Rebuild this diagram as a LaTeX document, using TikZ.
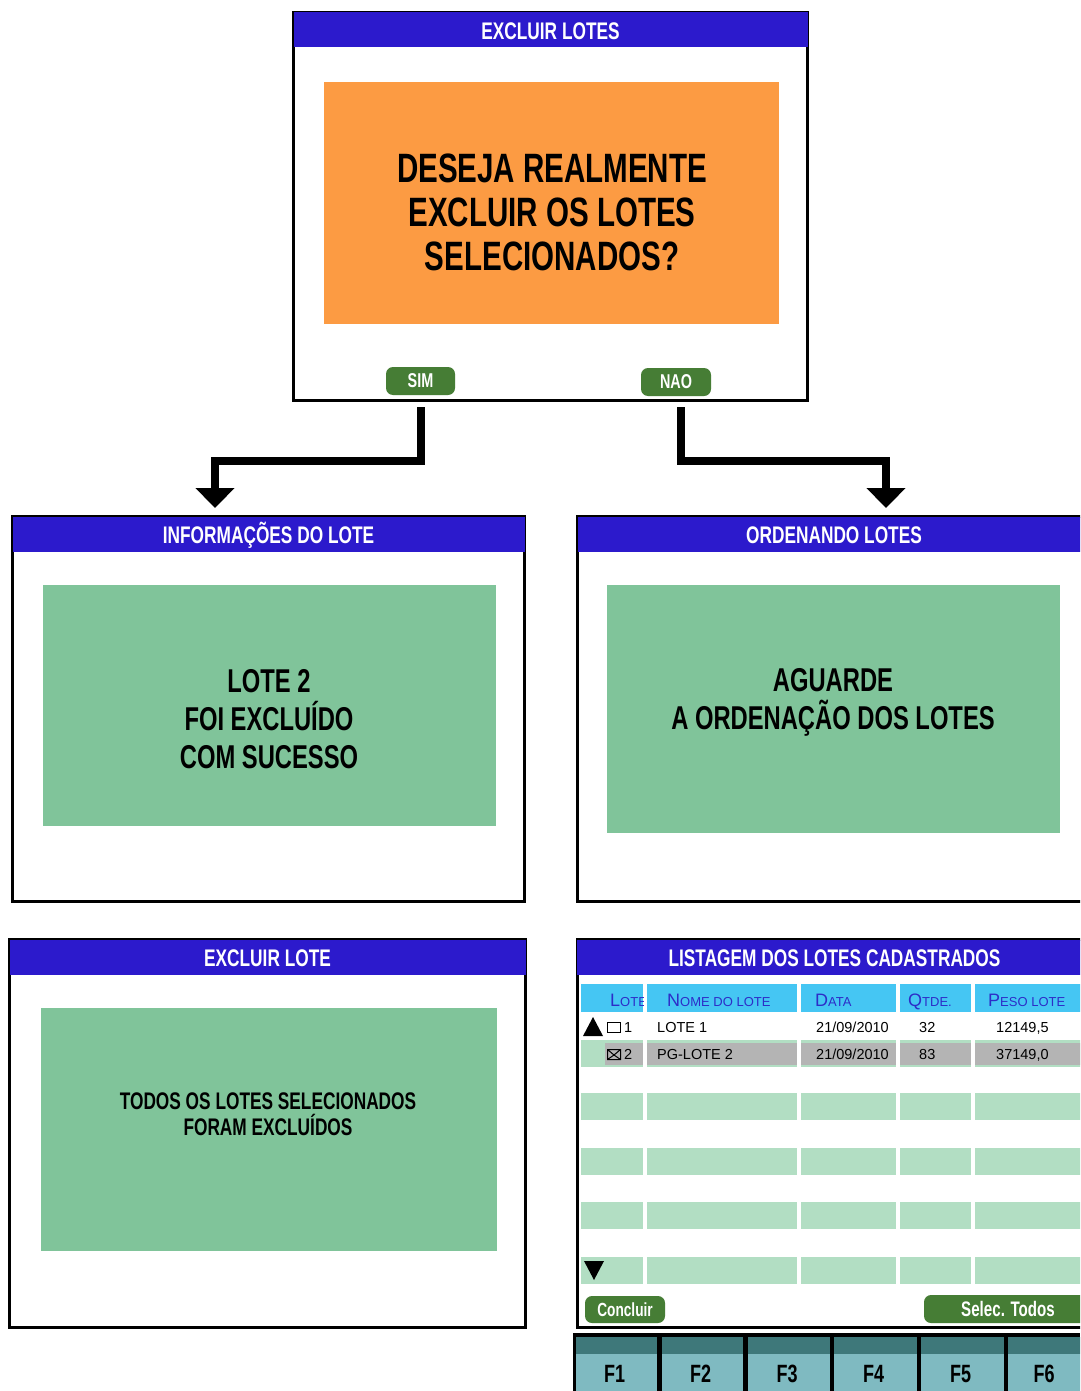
\documentclass[tikz,border=0pt]{standalone}
\usepackage{fontspec}
\setmainfont{Liberation Sans}[FakeStretch=0.72]
\newfontfamily\tablefont{Liberation Sans}
\usetikzlibrary{arrows.meta}
\definecolor{hdrblue}{HTML}{2C1ACC}
\definecolor{msgorange}{HTML}{FC9B43}
\definecolor{msggreen}{HTML}{80C49A}
\definecolor{btngreen}{HTML}{467D35}
\definecolor{colcyan}{HTML}{45C6F3}
\definecolor{colblue}{HTML}{2D2DC8}
\definecolor{rowgreen}{HTML}{B2DEC3}
\definecolor{rowgray}{HTML}{B4B4B4}
\definecolor{keydark}{HTML}{3E787A}
\definecolor{keylight}{HTML}{7FBAC1}
\newcommand{\capsmall}[2]{{\fontsize{18}{18}\selectfont #1}{\fontsize{13}{13}\selectfont #2}}

\begin{document}
\begin{tikzpicture}[x=1pt,y=-1pt,
  screen/.style={draw=black,line width=3pt,fill=white,inner sep=0pt},
  title/.style={text=white,font=\bfseries\fontsize{24}{24}\selectfont},
  msgtext/.style 2 args={align=center,font=\bfseries\fontsize{#1}{#2}\selectfont},
  btn/.style={fill=btngreen,rounded corners=7pt,text=white,inner sep=0pt,font=\bfseries\fontsize{20}{20}\selectfont},
  cell/.style={anchor=base west,inner sep=0pt,font=\tablefont\fontsize{14.5}{14.5}\selectfont},
  colhead/.style={anchor=base west,inner sep=0pt,text=colblue,font=\tablefont},
  flow/.style={line width=8pt,-{Triangle[width=38pt,length=20pt]}}]
  \path[use as bounding box,clip] (0,0) rectangle (1080,1391);

  % question screen
  \node[screen,minimum width=514,minimum height=388] (top) at (550.5,206.5) {};
  \fill[hdrblue] ([shift={(1.5pt,-1.5pt)}]top.north west) rectangle ([shift={(-1.5pt,-36.5pt)}]top.north east);
  \node[title] (toptitle) at ([yshift=-20.5pt]top.north) {EXCLUIR LOTES};
  \node[fill=msgorange,minimum width=455,minimum height=242,inner sep=0pt] (ask) at (551.5,203) {};
  \node[msgtext={41}{44}] (asktext) at (552,212) {DESEJA REALMENTE\\EXCLUIR OS LOTES\\SELECIONADOS?};
  \node[btn,minimum width=69,minimum height=28] (sim) at (420.5,381) {SIM};
  \node[btn,minimum width=70,minimum height=28] (nao) at (676,382) {NAO};

  % lot info screen
  \node[screen,minimum width=512,minimum height=385] (info) at (268.5,709) {};
  \fill[hdrblue] ([shift={(1.5pt,-1.5pt)}]info.north west) rectangle ([shift={(-1.5pt,-36.5pt)}]info.north east);
  \node[title] (infotitle) at ([yshift=-20.5pt]info.north) {INFORMAÇÕES DO LOTE};
  \node[fill=msggreen,minimum width=453,minimum height=241,inner sep=0pt] (infobox) at (269.5,705.5) {};
  \node[msgtext={33}{38}] (infotext) at (269,719) {LOTE 2\\FOI EXCLUÍDO\\COM SUCESSO};

  % sorting screen
  \node[screen,minimum width=513,minimum height=385] (order) at (834,709) {};
  \fill[hdrblue] ([shift={(1.5pt,-1.5pt)}]order.north west) rectangle ([shift={(-1.5pt,-36.5pt)}]order.north east);
  \node[title] (ordertitle) at ([yshift=-20.5pt]order.north) {ORDENANDO LOTES};
  \node[fill=msggreen,minimum width=453,minimum height=248,inner sep=0pt] (orderbox) at (833.5,709) {};
  \node[msgtext={33}{38}] (ordertext) at (833,702) {AGUARDE\\A ORDENAÇÃO DOS LOTES};

  % done screen
  \node[screen,minimum width=516,minimum height=388] (done) at (267.5,1133.5) {};
  \fill[hdrblue] ([shift={(1.5pt,-1.5pt)}]done.north west) rectangle ([shift={(-1.5pt,-36.5pt)}]done.north east);
  \node[title] (donetitle) at ([yshift=-20.5pt]done.north) {EXCLUIR LOTE};
  \node[fill=msggreen,minimum width=456,minimum height=243,inner sep=0pt] (donebox) at (269,1129.5) {};
  \node[msgtext={24}{26}] (donetext) at (268,1114) {TODOS OS LOTES SELECIONADOS\\FORAM EXCLUÍDOS};

  % list screen
  \node[screen,minimum width=515,minimum height=388] (list) at (834.5,1133.5) {};
  \fill[hdrblue] ([shift={(1.5pt,-1.5pt)}]list.north west) rectangle ([shift={(-1.5pt,-36.5pt)}]list.north east);
  \node[title] (listtitle) at ([yshift=-20.5pt]list.north) {LISTAGEM DOS LOTES CADASTRADOS};

  \foreach \xa/\xb in {581/643,647/797,801/896,900/971,975/1090} {
    \fill[colcyan] (\xa,984) rectangle (\xb,1012);
    \fill[rowgreen] (\xa,1040) rectangle (\xb,1067);
    \foreach \y in {1093,1148,1202,1257}
      \fill[rowgreen] (\xa,\y) rectangle (\xb,\y+27);
  }
  \foreach \xa/\xb in {605/643,647/797,801/896,900/971,975/1090}
    \fill[rowgray] (\xa,1043) rectangle (\xb,1065);

  \begin{scope}
    \clip (581,984) rectangle (643,1012);
    \node[colhead] (hlote) at (610,1006) {\capsmall{L}{OTE}};
  \end{scope}
  \node[colhead] (hnome) at (667,1006) {\capsmall{N}{OME DO LOTE}};
  \node[colhead] (hdata) at (815,1006) {\capsmall{D}{ATA}};
  \node[colhead] (hqtde) at (908,1006) {\capsmall{Q}{TDE.}};
  \node[colhead] (hpeso) at (988,1006) {\capsmall{P}{ESO LOTE}};

  \fill (583,1036) -- (593,1017) -- (603,1036) -- cycle;
  \draw[line width=1pt] (607.5,1022.5) rectangle (620.5,1032.5);
  \draw[line width=1pt] (607.5,1049.5) rectangle (620.5,1059.5) (607.5,1049.5) -- (614,1055) -- (620.5,1049.5) (607.5,1059.5) -- (614,1055) -- (620.5,1059.5);
  \fill (584,1261) -- (604,1261) -- (594,1280) -- cycle;

  \node[cell] (n1) at (624,1032.5) {1};
  \node[cell] (lote1) at (657,1032.5) {LOTE 1};
  \node[cell] (data1) at (816,1032.5) {21/09/2010};
  \node[cell] (qtde1) at (919,1032.5) {32};
  \node[cell] (peso1) at (996,1032.5) {12149,5};
  \node[cell] (n2) at (624,1059.5) {2};
  \node[cell] (lote2) at (657,1059.5) {PG-LOTE 2};
  \node[cell] (data2) at (816,1059.5) {21/09/2010};
  \node[cell] (qtde2) at (919,1059.5) {83};
  \node[cell] (peso2) at (996,1059.5) {37149,0};

  \node[btn,minimum width=80,minimum height=27,font=\bfseries\fontsize{19}{19}\selectfont] (concluir) at (625,1309.5) {Concluir};
  \node[btn,minimum width=168,minimum height=28,font=\bfseries\fontsize{21}{21}\selectfont] (todos) at (1008,1309) {Selec. Todos};

  % function keys
  \fill[black] (573,1333) rectangle (1080,1391);
  \foreach \k/\xa/\xb in {1/576/657,2/662/743,3/748/830,4/834/917,5/921/1004,6/1008/1084} {
    \fill[keydark] (\xa,1337) rectangle (\xb,1354);
    \fill[keylight] (\xa,1354) rectangle (\xb,1391);
    \node[font=\bfseries\fontsize{25}{25}\selectfont] (fkey\k) at ({(\xa+\xb)/2-2},1374) {F\k};
  }

  % connectors
  \coordinate (simout) at (421,407);
  \coordinate (naoout) at (681,407);
  \coordinate (simtip) at (215,508);
  \coordinate (naotip) at (886,508);
  \draw[flow] (simout) -- ++(0,53.5) -| (simtip);
  \draw[flow] (naoout) -- ++(0,53.5) -| (naotip);
\end{tikzpicture}
\end{document}
